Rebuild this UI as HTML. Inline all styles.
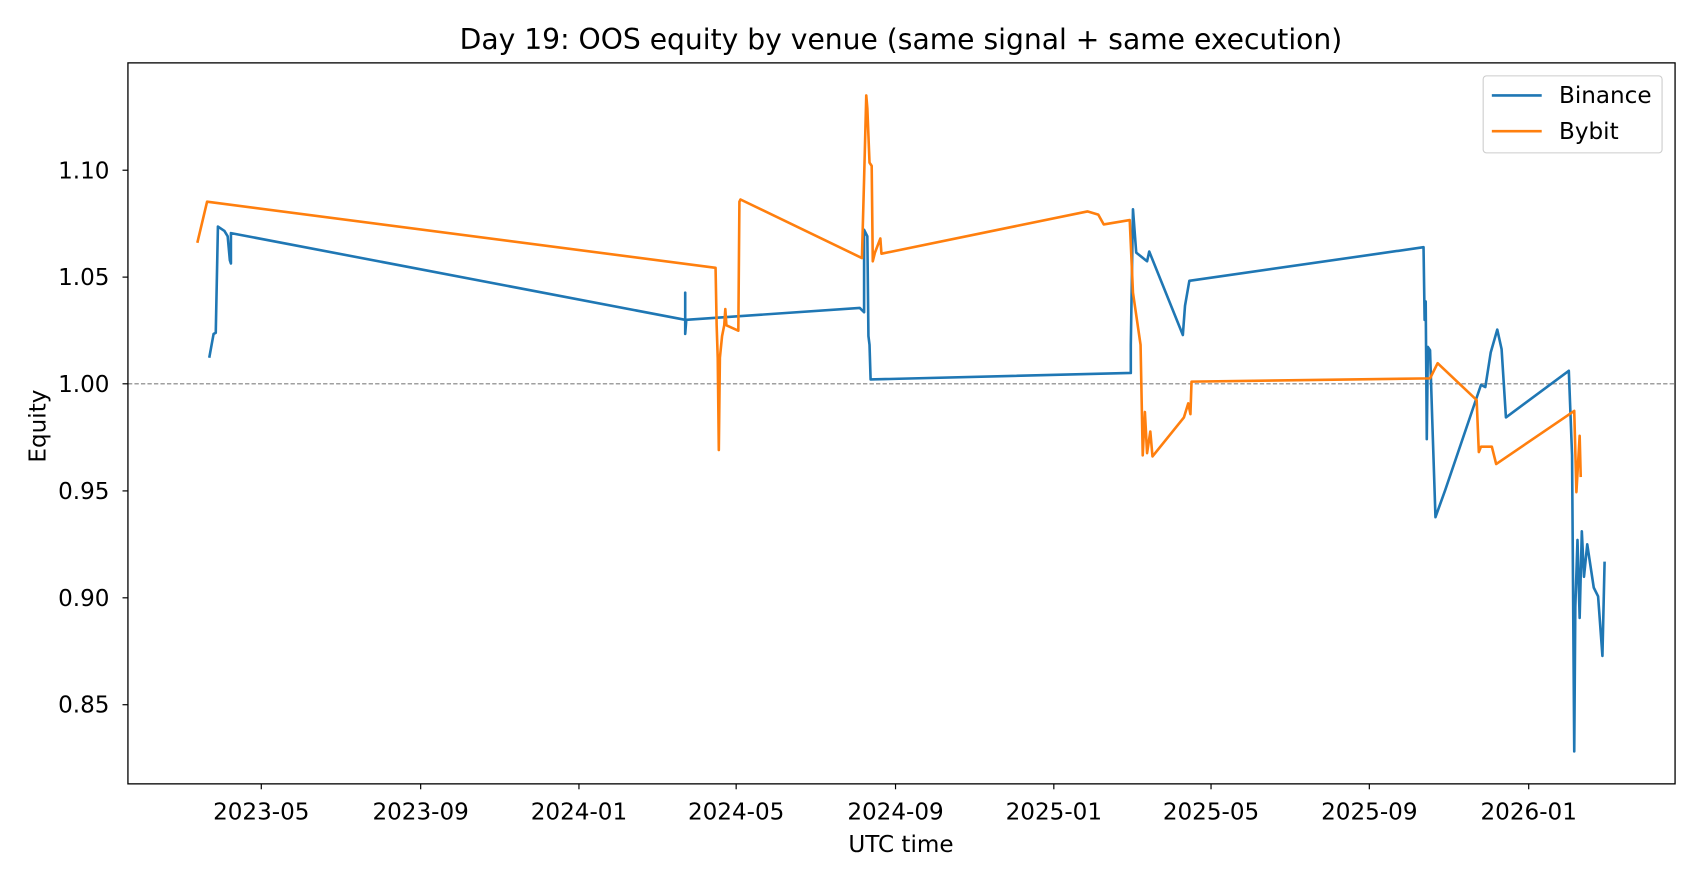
<!DOCTYPE html>
<html><head><meta charset="utf-8"><style>html,body{margin:0;padding:0;background:#fff}svg{display:block}</style></head>
<body>
<svg width="1700" height="884" viewBox="0 0 1568 815.36" xmlns="http://www.w3.org/2000/svg" font-family="'DejaVu Sans','Liberation Sans',sans-serif">
<rect width="1568" height="816" fill="#fff"/>
<text x="831" y="45" font-size="26" text-anchor="middle">Day 19: OOS equity by venue (same signal + same execution)</text>
<line x1="118" y1="354" x2="1545" y2="354" stroke="#808080" stroke-width="1.1" stroke-dasharray="4,2"/>
<polyline fill="none" stroke="#1f77b4" stroke-width="2.4" stroke-linejoin="round" points="193,330 197,308 199,307 201,209 207,213 210,218 212,240 213,243 213,215 632,295 632,270 632,308 633,295 793,284 797,288 797,212 800,218 801,310 802,318 803,350 1043,344 1043,318 1045,193 1048,233 1058,241 1060,232 1091,309 1093,282 1097,259 1313,228 1314,295 1315,278 1316,405 1317,320 1319,323 1321,386 1324,477 1333,452 1366,355 1370,357 1375,325 1381,304 1385,322 1389,385 1447,342 1450,420 1452,693 1453,560 1455,498 1457,570 1459,490 1461,532 1464,502 1470,542 1474,550 1478,605 1480,518"/>
<polyline fill="none" stroke="#ff7f0e" stroke-width="2.4" stroke-linejoin="round" points="182,224 191,186 660,247 661,300 662,330 663,415 664,330 666,310 668,300 669,285 670,300 681,305 682,186 683,184 795,238 797,165 799,88 800,100 802,150 804,153 805,241 807,233 812,220 813,234 1003,195 1013,198 1018,207 1042,203 1045,270 1052,318 1054,420 1056,380 1058,418 1061,398 1063,421 1092,385 1096,372 1098,382 1099,352 1319,349 1326,335 1362,369 1364,417 1366,412 1376,412 1380,428 1452,379 1454,454 1457,402 1458,440"/>
<rect x="118" y="58" width="1427" height="665" fill="none" stroke="#000" stroke-width="1.2"/>
<g stroke="#000" stroke-width="1.1">
<line x1="118" y1="157" x2="113" y2="157"/><line x1="118" y1="255.6" x2="113" y2="255.6"/><line x1="118" y1="354" x2="113" y2="354"/><line x1="118" y1="452.8" x2="113" y2="452.8"/><line x1="118" y1="551.4" x2="113" y2="551.4"/><line x1="118" y1="650" x2="113" y2="650"/>
<line x1="241" y1="723" x2="241" y2="728"/><line x1="388" y1="723" x2="388" y2="728"/><line x1="534" y1="723" x2="534" y2="728"/><line x1="679" y1="723" x2="679" y2="728"/><line x1="826" y1="723" x2="826" y2="728"/><line x1="972" y1="723" x2="972" y2="728"/><line x1="1117" y1="723" x2="1117" y2="728"/><line x1="1263" y1="723" x2="1263" y2="728"/><line x1="1410" y1="723" x2="1410" y2="728"/>
</g>
<g font-size="21.3" text-anchor="end">
<text x="101" y="164.5">1.10</text><text x="101" y="263">1.05</text><text x="101" y="361.5">1.00</text><text x="101" y="460.2">0.95</text><text x="101" y="558.8">0.90</text><text x="101" y="657.4">0.85</text>
</g>
<g font-size="21.3" text-anchor="middle">
<text x="241" y="756">2023-05</text><text x="388" y="756">2023-09</text><text x="534" y="756">2024-01</text><text x="679" y="756">2024-05</text><text x="826" y="756">2024-09</text><text x="972" y="756">2025-01</text><text x="1117" y="756">2025-05</text><text x="1263" y="756">2025-09</text><text x="1410" y="756">2026-01</text>
<text x="831" y="786">UTC time</text>
</g>
<text font-size="21.3" text-anchor="middle" transform="translate(42,393) rotate(-90)">Equity</text>
<rect x="1368" y="70" width="165" height="71" rx="3" fill="#fff" stroke="#ccc" stroke-width="1"/>
<line x1="1376" y1="88" x2="1422" y2="88" stroke="#1f77b4" stroke-width="2.4"/>
<line x1="1376" y1="121" x2="1422" y2="121" stroke="#ff7f0e" stroke-width="2.4"/>
<text x="1438" y="95" font-size="21.3">Binance</text>
<text x="1438" y="128" font-size="21.3">Bybit</text>
</svg>
</body></html>
